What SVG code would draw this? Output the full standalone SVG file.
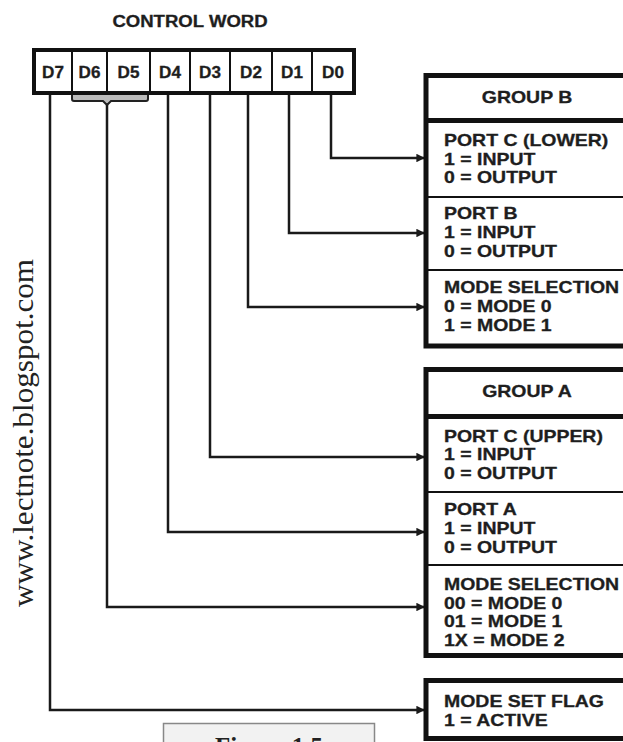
<svg xmlns="http://www.w3.org/2000/svg" width="623" height="742" viewBox="0 0 623 742">
<defs>
<style>
.t{font-family:"Liberation Sans",Arial,sans-serif;font-weight:bold;fill:#1e1e1e;stroke:#1e1e1e;stroke-width:0.3;}
.bx{font-size:16.5px;}
.bit{font-size:16px;text-anchor:middle;}
.thick{fill:#fff;stroke:#111;stroke-width:5;}
.thin{stroke:#111;stroke-width:2;fill:none;}
.conn{fill:none;stroke:#1a1a1a;stroke-width:2.5;}
</style>
<marker id="ah" viewBox="0 0 10 10" refX="9" refY="5" markerWidth="4" markerHeight="3.4" orient="auto" markerUnits="strokeWidth">
<path d="M0,0 L10,5 L0,10 z" fill="#1a1a1a"/>
</marker>
</defs>
<rect width="623" height="742" fill="#fff"/>

<text x="0" y="0" transform="translate(33,607) rotate(-90)" style="font-family:'Liberation Serif','Times New Roman',serif;font-size:30px;fill:#222" textLength="348" lengthAdjust="spacingAndGlyphs">www.lectnote.blogspot.com</text>

<g id="control-word">
<text class="t" style="font-size:16px;text-anchor:middle" transform="translate(190,27) scale(1.16,1)">CONTROL WORD</text>
<rect x="34" y="50" width="320" height="43" fill="#fff" stroke="#111" stroke-width="4"/>
<g class="thin">
<line x1="72" y1="50" x2="72" y2="93"/>
<line x1="107" y1="50" x2="107" y2="93"/>
<line x1="150" y1="50" x2="150" y2="93"/>
<line x1="190" y1="50" x2="190" y2="93"/>
<line x1="230" y1="50" x2="230" y2="93"/>
<line x1="272" y1="50" x2="272" y2="93"/>
<line x1="312" y1="50" x2="312" y2="93"/>
</g>
<text class="t bit" transform="translate(53,78) scale(1.07,1)">D7</text>
<text class="t bit" transform="translate(89.5,78) scale(1.07,1)">D6</text>
<text class="t bit" transform="translate(128.5,78) scale(1.07,1)">D5</text>
<text class="t bit" transform="translate(170,78) scale(1.07,1)">D4</text>
<text class="t bit" transform="translate(210,78) scale(1.07,1)">D3</text>
<text class="t bit" transform="translate(251,78) scale(1.07,1)">D2</text>
<text class="t bit" transform="translate(292,78) scale(1.07,1)">D1</text>
<text class="t bit" transform="translate(333,78) scale(1.07,1)">D0</text>
<path d="M72,95 L72,99 Q72,101 74,101 L103,101 L107,105 L111,101 L146,101 Q148,101 148,99 L148,95" fill="#bbb" stroke="#222" stroke-width="2"/>
</g>

<g id="connectors">
<path class="conn" d="M331,95 V158 H424" marker-end="url(#ah)"/>
<path class="conn" d="M289,95 V233 H424" marker-end="url(#ah)"/>
<path class="conn" d="M248,95 V307 H424" marker-end="url(#ah)"/>
<path class="conn" d="M210,95 V457 H424" marker-end="url(#ah)"/>
<path class="conn" d="M168,95 V532 H424" marker-end="url(#ah)"/>
<path class="conn" d="M107,105 V607 H424" marker-end="url(#ah)"/>
<path class="conn" d="M50,95 V710 H424" marker-end="url(#ah)"/>
</g>

<g id="group-b">
<rect class="thick" x="426" y="75.5" width="230" height="270.5"/>
<line x1="426" y1="120.5" x2="656" y2="120.5" stroke="#111" stroke-width="5"/>
<line class="thin" x1="426" y1="197" x2="656" y2="197"/>
<line class="thin" x1="426" y1="270" x2="656" y2="270"/>
<text class="t bx" style="text-anchor:middle" transform="translate(527,103) scale(1.18,1)">GROUP B</text>
<g id="port-c-lower">
<text class="t bx" transform="translate(444,146) scale(1.18,1)">PORT C (LOWER)</text>
<text class="t bx" transform="translate(444,164.5) scale(1.18,1)">1 = INPUT</text>
<text class="t bx" transform="translate(444,183) scale(1.18,1)">0 = OUTPUT</text>
</g>
<g id="port-b">
<text class="t bx" transform="translate(444,219) scale(1.18,1)">PORT B</text>
<text class="t bx" transform="translate(444,238) scale(1.18,1)">1 = INPUT</text>
<text class="t bx" transform="translate(444,257) scale(1.18,1)">0 = OUTPUT</text>
</g>
<g id="mode-selection-b">
<text class="t bx" transform="translate(444,293) scale(1.18,1)">MODE SELECTION</text>
<text class="t bx" transform="translate(444,312) scale(1.18,1)">0 = MODE 0</text>
<text class="t bx" transform="translate(444,330.5) scale(1.18,1)">1 = MODE 1</text>
</g>
</g>

<g id="group-a">
<rect class="thick" x="426" y="369.5" width="230" height="286"/>
<line x1="426" y1="416.5" x2="656" y2="416.5" stroke="#111" stroke-width="5"/>
<line class="thin" x1="426" y1="492" x2="656" y2="492"/>
<line class="thin" x1="426" y1="565" x2="656" y2="565"/>
<text class="t bx" style="text-anchor:middle" transform="translate(527,397) scale(1.18,1)">GROUP A</text>
<g id="port-c-upper">
<text class="t bx" transform="translate(444,442) scale(1.18,1)">PORT C (UPPER)</text>
<text class="t bx" transform="translate(444,460) scale(1.18,1)">1 = INPUT</text>
<text class="t bx" transform="translate(444,478.5) scale(1.18,1)">0 = OUTPUT</text>
</g>
<g id="port-a">
<text class="t bx" transform="translate(444,515) scale(1.18,1)">PORT A</text>
<text class="t bx" transform="translate(444,534) scale(1.18,1)">1 = INPUT</text>
<text class="t bx" transform="translate(444,553) scale(1.18,1)">0 = OUTPUT</text>
</g>
<g id="mode-selection-a">
<text class="t bx" transform="translate(444,590) scale(1.18,1)">MODE SELECTION</text>
<text class="t bx" transform="translate(444,608.5) scale(1.18,1)">00 = MODE 0</text>
<text class="t bx" transform="translate(444,627) scale(1.18,1)">01 = MODE 1</text>
<text class="t bx" transform="translate(444,645.5) scale(1.18,1)">1X = MODE 2</text>
</g>
</g>

<g id="mode-set-flag">
<rect class="thick" x="426" y="680.5" width="230" height="58"/>
<text class="t bx" transform="translate(444,707) scale(1.18,1)">MODE SET FLAG</text>
<text class="t bx" transform="translate(444,725.5) scale(1.18,1)">1 = ACTIVE</text>
</g>

<g id="figure-caption">
<rect x="163.5" y="723.5" width="211" height="30" fill="#f2f2f2" stroke="#888" stroke-width="1.5"/>
<text x="269" y="755" style="font-family:'Liberation Serif','Times New Roman',serif;font-weight:bold;font-size:25px;fill:#222;text-anchor:middle">Figure 1.5</text>
</g>
</svg>
